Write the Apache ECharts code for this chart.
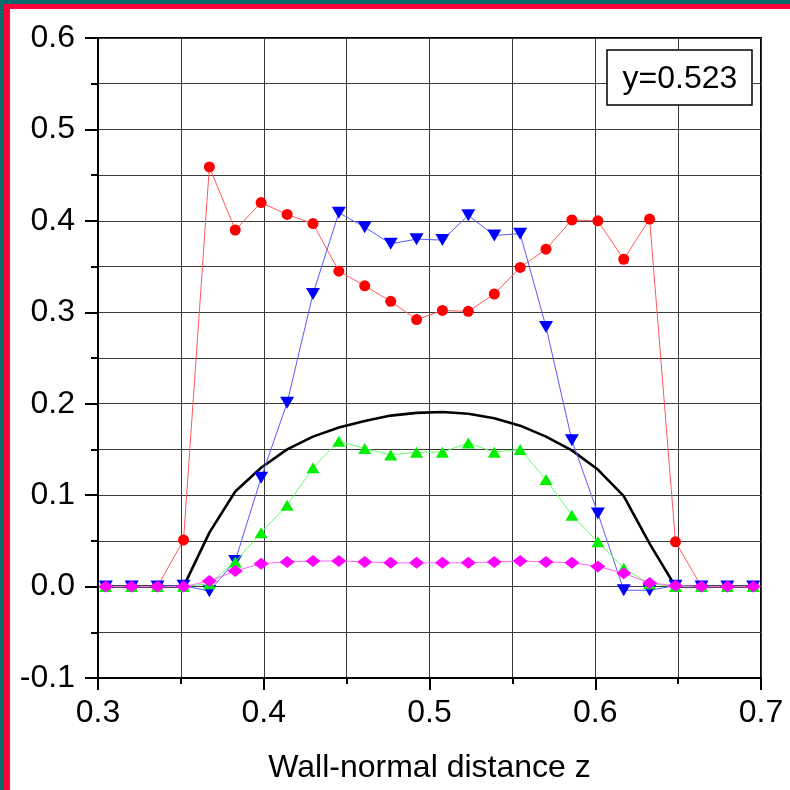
<!DOCTYPE html>
<html>
<head>
<meta charset="utf-8">
<script src="https://cdn.jsdelivr.net/npm/echarts@6/dist/echarts.min.js"></script>
<style>
  html, body { margin: 0; padding: 0; background: #fff; }
  #chart { width: 790px; height: 790px; }
</style>
</head>
<body>
<div id="chart"></div>
<script>
// Wall-normal positions (cell centres, 1/64 spacing)
const zValues = [0.3047, 0.3203, 0.3359, 0.3516, 0.3672, 0.3828, 0.3984, 0.4141, 0.4297,
  0.4453, 0.4609, 0.4766, 0.4922, 0.5078, 0.5234, 0.5391, 0.5547, 0.5703, 0.5859,
  0.6016, 0.6172, 0.6328, 0.6484, 0.6641, 0.6797, 0.6953];

const redCircles = [0, 0, 0, 0.051, 0.459, 0.390, 0.420, 0.407, 0.397, 0.345, 0.329, 0.312,
  0.292, 0.302, 0.301, 0.320, 0.349, 0.369, 0.401, 0.400, 0.358, 0.402, 0.049, 0, 0, 0];

const blueDown = [0, 0, 0, 0.001, -0.005, 0.028, 0.119, 0.201, 0.320, 0.409, 0.393, 0.375,
  0.380, 0.379, 0.406, 0.384, 0.386, 0.284, 0.160, 0.080, -0.004, -0.004, 0.001, 0, 0, 0];

const greenUp = [0, 0, 0, 0, 0.003, 0.027, 0.059, 0.089, 0.130, 0.159, 0.151, 0.144,
  0.147, 0.147, 0.157, 0.147, 0.150, 0.117, 0.078, 0.049, 0.020, 0.003, 0, 0, 0, 0];

const magentaDiamonds = [0, 0, 0, 0, 0.006, 0.017, 0.025, 0.027, 0.028, 0.028, 0.027, 0.026,
  0.026, 0.026, 0.026, 0.027, 0.028, 0.027, 0.026, 0.022, 0.0145, 0.004, 0.001, 0, 0, 0];

const blackProfile = [0, 0, 0, 0, 0.059, 0.104, 0.130, 0.150, 0.164, 0.174, 0.181, 0.187,
  0.190, 0.191, 0.189, 0.184, 0.176, 0.164, 0.149, 0.128, 0.099, 0.047, 0, 0, 0, 0];

const xTicks = [0.3, 0.4, 0.5, 0.6, 0.7];
const yTicks = [-0.1, 0.0, 0.1, 0.2, 0.3, 0.4, 0.5, 0.6];
const xAxisTitle = 'Wall-normal distance z';
const boxLabel = 'y=0.523';

const FONT = '"Liberation Sans", Arial, sans-serif';

function pairs(ys) {
  return zValues.map((z, i) => [z, ys[i]]);
}

const gridLine = { show: true, lineStyle: { color: '#3a3a3a', width: 1 } };

const chart = echarts.init(document.getElementById('chart'), null, { renderer: 'canvas' });

chart.setOption({
  animation: false,
  backgroundColor: '#ffffff',
  grid: {
    left: 98, top: 38, right: 29, bottom: 112,
    show: true, borderColor: '#000', borderWidth: 2, backgroundColor: 'transparent'
  },
  xAxis: {
    type: 'value',
    min: xTicks[0], max: xTicks[xTicks.length - 1], interval: 0.1,
    name: xAxisTitle,
    nameLocation: 'middle',
    nameGap: 74,
    nameTextStyle: { fontFamily: FONT, fontSize: 32, color: '#000' },
    axisLine: { show: true, onZero: false, lineStyle: { color: '#000', width: 2 } },
    axisTick: { show: true, inside: false, length: 12, lineStyle: { color: '#000', width: 2 } },
    minorTick: { show: true, splitNumber: 2, length: 6, lineStyle: { color: '#000', width: 2 } },
    splitLine: gridLine,
    minorSplitLine: gridLine,
    axisLabel: {
      margin: 19, fontFamily: FONT, fontSize: 32, color: '#000',
      formatter: v => v.toFixed(1)
    }
  },
  yAxis: {
    type: 'value',
    min: yTicks[0], max: yTicks[yTicks.length - 1], interval: 0.1,
    axisLine: { show: true, onZero: false, lineStyle: { color: '#000', width: 2 } },
    axisTick: { show: true, inside: false, length: 13, lineStyle: { color: '#000', width: 2 } },
    minorTick: { show: true, splitNumber: 2, length: 7, lineStyle: { color: '#000', width: 2 } },
    splitLine: gridLine,
    minorSplitLine: gridLine,
    axisLabel: {
      margin: 23, fontFamily: FONT, fontSize: 32, color: '#000',
      formatter: v => v.toFixed(1)
    }
  },
  graphic: [
    { type: 'rect', shape: { x: 0, y: 0, width: 790, height: 4 }, style: { fill: '#036b6b' }, z: 200 },
    { type: 'rect', shape: { x: 0, y: 0, width: 4, height: 790 }, style: { fill: '#036b6b' }, z: 200 },
    { type: 'rect', shape: { x: 4, y: 4, width: 786, height: 5 }, style: { fill: '#ff0038' }, z: 200 },
    { type: 'rect', shape: { x: 4, y: 4, width: 6, height: 786 }, style: { fill: '#ff0038' }, z: 200 },
    {
      type: 'rect', z: 150,
      shape: { x: 607, y: 50, width: 145, height: 55 },
      style: { fill: '#fff', stroke: '#000', lineWidth: 1.5 }
    },
    {
      type: 'text', z: 151,
      x: 680, y: 79,
      style: {
        text: boxLabel, fontFamily: FONT, fontSize: 32, fill: '#000',
        align: 'center', verticalAlign: 'middle'
      }
    }
  ],
  series: [
    {
      type: 'line', data: pairs(blackProfile), showSymbol: false, symbol: 'none',
      lineStyle: { color: '#000', width: 2.6 }, z: 2
    },
    {
      type: 'line', data: pairs(redCircles), symbol: 'circle', symbolSize: 11,
      itemStyle: { color: '#ff0000' }, lineStyle: { color: '#ff5a5a', width: 1 }, z: 3
    },
    {
      type: 'line', data: pairs(blueDown), symbol: 'triangle', symbolRotate: 180, symbolSize: [14, 12],
      itemStyle: { color: '#0000ff' }, lineStyle: { color: '#5a5aff', width: 1 }, z: 4
    },
    {
      type: 'line', data: pairs(greenUp), symbol: 'triangle', symbolSize: [13, 11],
      itemStyle: { color: '#00f000' }, lineStyle: { color: '#66ff66', width: 1 }, z: 5
    },
    {
      type: 'line', data: pairs(magentaDiamonds), symbol: 'diamond', symbolSize: [15, 12],
      itemStyle: { color: '#ff00ff' }, lineStyle: { color: '#ff66ff', width: 1 }, z: 6
    }
  ]
});
</script>
</body>
</html>
